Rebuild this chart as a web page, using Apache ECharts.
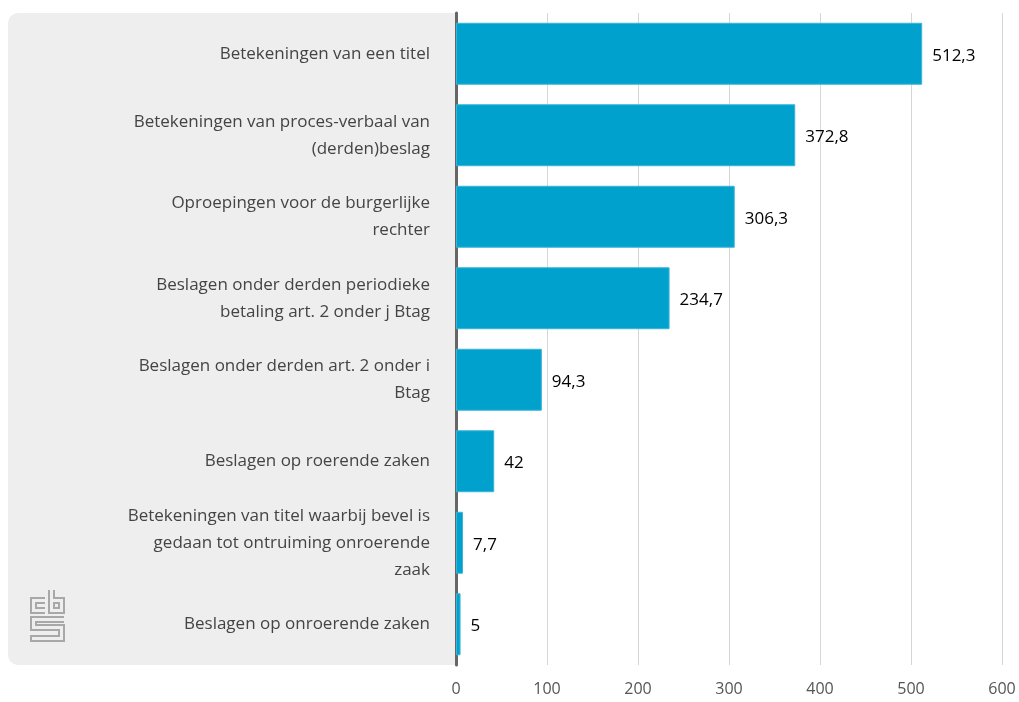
<!DOCTYPE html>
<html>
<head>
<meta charset="utf-8">
<script src="https://cdn.jsdelivr.net/npm/echarts@6/dist/echarts.min.js"></script>
<style>
  html, body { margin: 0; padding: 0; background: #fff; }
  #chart { width: 1019px; height: 702px; }
</style>
</head>
<body>
<div id="chart"></div>
<script>
const categories = [
    'Betekeningen van een titel',
    'Betekeningen van proces-verbaal van\n(derden)beslag',
    'Oproepingen voor de burgerlijke\nrechter',
    'Beslagen onder derden periodieke\nbetaling art. 2 onder j Btag',
    'Beslagen onder derden art. 2 onder i\nBtag',
    'Beslagen op roerende zaken',
    'Betekeningen van titel waarbij bevel is\ngedaan tot ontruiming onroerende\nzaak',
    'Beslagen op onroerende zaken'
]
const values = [512.3, 372.8, 306.3, 234.7, 94.3, 42, 7.7, 5]
const xTicks = [0, 100, 200, 300, 400, 500, 600]

const fontFamily = '"Open Sans", sans-serif'
const logoStroke = { stroke: '#a8a8a8', lineWidth: 2, fill: null }

const chart = echarts.init(document.getElementById('chart'))
const option = {
    animation: false,
    textStyle: { fontFamily: fontFamily },
    grid: { left: 456, right: 17, top: 13, bottom: 37, containLabel: false },
    graphic: [
        {
            type: 'rect', z: -10, silent: true,
            shape: { x: 8, y: 13, width: 448, height: 652, r: [10, 0, 0, 10] },
            style: { fill: '#eeeeee' }
        },
        // cbs logo
        { type: 'polyline', shape: { points: [[45, 598], [31, 598], [31, 613], [45, 613]] }, style: logoStroke },
        { type: 'polyline', shape: { points: [[45, 603], [36, 603], [36, 608], [45, 608]] }, style: logoStroke },
        { type: 'polyline', shape: { points: [[49, 590], [49, 613], [64, 613], [64, 598], [54, 598], [54, 590]] }, style: logoStroke },
        { type: 'rect', shape: { x: 54, y: 603, width: 5, height: 5 }, style: logoStroke },
        { type: 'polyline', shape: { points: [[64, 617], [31, 617], [31, 630], [59, 630], [59, 636], [31, 636], [31, 641], [64, 641], [64, 625], [36, 625], [36, 622], [64, 622]] }, style: logoStroke }
    ],
    xAxis: {
        type: 'value',
        min: xTicks[0],
        max: xTicks[xTicks.length - 1],
        interval: 100,
        axisLine: { show: false },
        axisTick: { show: false },
        axisLabel: { color: '#555', fontSize: 16, margin: 16 },
        splitLine: { show: true, lineStyle: { color: '#d6d6d6', width: 1 } }
    },
    yAxis: {
        type: 'category',
        data: categories,
        inverse: true,
        axisLine: { show: true, lineStyle: { color: '#666', width: 3 } },
        axisTick: { show: false },
        axisLabel: {
            color: '#444', fontSize: 17, margin: 26, lineHeight: 27, align: 'right',
            padding: [6, 0, 0, 0]
        }
    },
    series: [{
        type: 'bar',
        data: values,
        barCategoryGap: '24%',
        itemStyle: { color: '#00a1cd', borderColor: '#3bb4d8', borderWidth: 1 },
        label: {
            show: true,
            position: 'right',
            distance: 10,
            offset: [0, 2],
            color: '#000',
            fontSize: 17,
            fontWeight: 500,
            formatter: p => String(p.value).replace('.', ',')
        }
    }]
}

if (option && typeof option === 'object') {
    chart.setOption(option, true)
}
</script>
</body>
</html>
